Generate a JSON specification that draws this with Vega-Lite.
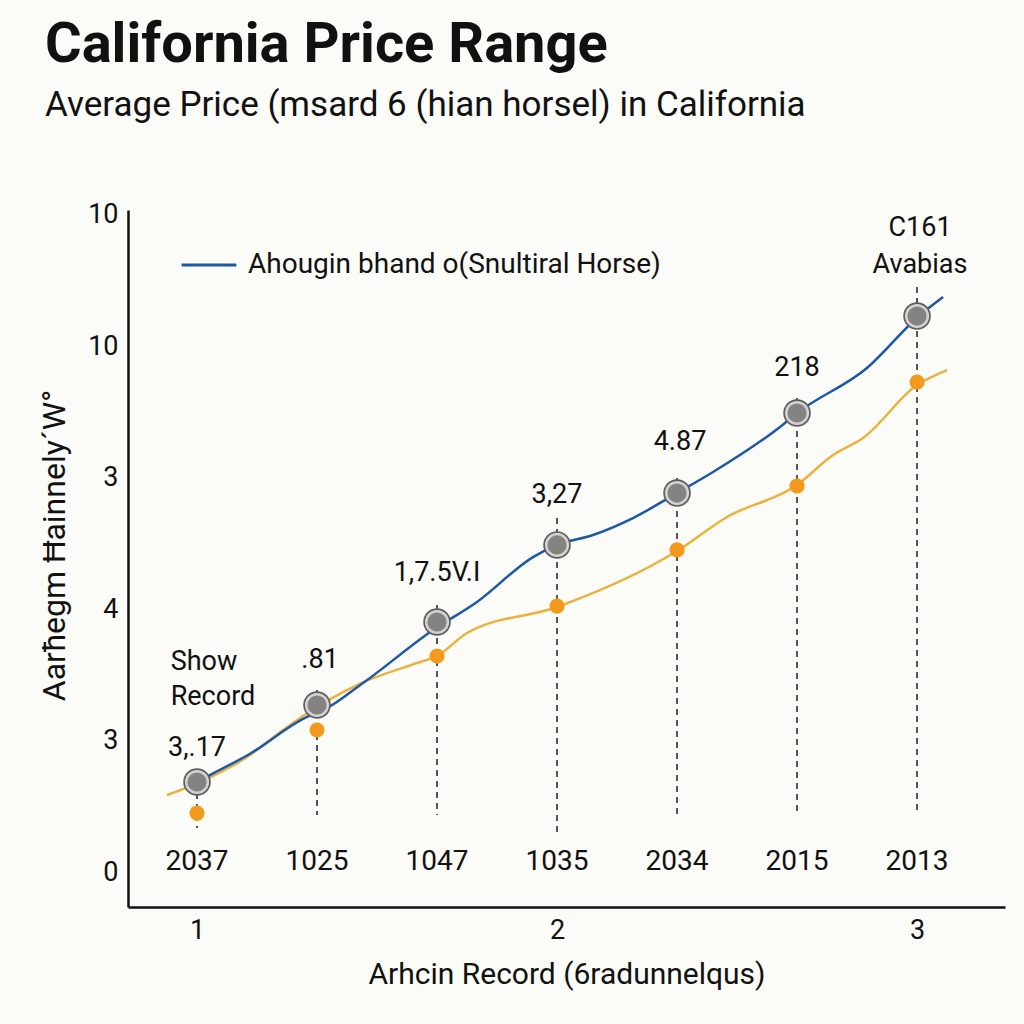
{
  "$schema": "https://vega.github.io/schema/vega-lite/v6.json",
  "autosize": {"type": "none"},
  "width": 877,
  "height": 697,
  "padding": {"left": 128, "top": 210, "right": 19, "bottom": 117},
  "background": "#fbfbf8",
  "config": {
    "view": {"stroke": null},
    "font": "Roboto",
    "axis": {"labelFont": "Roboto", "titleFont": "Roboto", "labelColor": "#111", "titleColor": "#111", "titleFontWeight": "normal", "grid": false, "ticks": false, "domainColor": "#111", "domainWidth": 2.5}
  },
  "title": {
    "text": "California Price Range",
    "subtitle": "Average Price (msard 6 (hian horsel) in California",
    "anchor": "start",
    "frame": "group",
    "dx": -83,
    "offset": 77,
    "font": "Roboto",
    "fontSize": 56,
    "fontWeight": "bold",
    "color": "#111",
    "subtitleFont": "Roboto",
    "subtitleFontSize": 35,
    "subtitleColor": "#111",
    "subtitlePadding": 14
  },
  "datasets": {
    "blue": [
      {"x": -0.058, "v": 0.654, "series": "Ahougin bhand o(Snultiral Horse)"},
      {"x": 0, "v": 0.685, "series": "Ahougin bhand o(Snultiral Horse)"},
      {"x": 0.442, "v": 0.9, "series": "Ahougin bhand o(Snultiral Horse)"},
      {"x": 0.917, "v": 1.18, "series": "Ahougin bhand o(Snultiral Horse)"},
      {"x": 1.05, "v": 1.23, "series": "Ahougin bhand o(Snultiral Horse)"},
      {"x": 1.383, "v": 1.438, "series": "Ahougin bhand o(Snultiral Horse)"},
      {"x": 1.967, "v": 1.842, "series": "Ahougin bhand o(Snultiral Horse)"},
      {"x": 2.333, "v": 2.055, "series": "Ahougin bhand o(Snultiral Horse)"},
      {"x": 2.8, "v": 2.397, "series": "Ahougin bhand o(Snultiral Horse)"},
      {"x": 3.0, "v": 2.489, "series": "Ahougin bhand o(Snultiral Horse)"},
      {"x": 3.3, "v": 2.565, "series": "Ahougin bhand o(Snultiral Horse)"},
      {"x": 3.633, "v": 2.694, "series": "Ahougin bhand o(Snultiral Horse)"},
      {"x": 4.0, "v": 2.884, "series": "Ahougin bhand o(Snultiral Horse)"},
      {"x": 4.3, "v": 3.044, "series": "Ahougin bhand o(Snultiral Horse)"},
      {"x": 4.858, "v": 3.387, "series": "Ahougin bhand o(Snultiral Horse)"},
      {"x": 5.0, "v": 3.493, "series": "Ahougin bhand o(Snultiral Horse)"},
      {"x": 5.583, "v": 3.836, "series": "Ahougin bhand o(Snultiral Horse)"},
      {"x": 6.025, "v": 4.239, "series": "Ahougin bhand o(Snultiral Horse)"},
      {"x": 6.217, "v": 4.376, "series": "Ahougin bhand o(Snultiral Horse)"}
    ],
    "orange": [
      {"x": -0.25, "v": 0.586},
      {"x": 0.025, "v": 0.685},
      {"x": 0.417, "v": 0.875},
      {"x": 0.717, "v": 1.081},
      {"x": 1.0, "v": 1.256},
      {"x": 1.333, "v": 1.423},
      {"x": 1.833, "v": 1.591},
      {"x": 2.0, "v": 1.644},
      {"x": 2.25, "v": 1.819},
      {"x": 3.0, "v": 2.017},
      {"x": 4.0, "v": 2.443},
      {"x": 4.417, "v": 2.702},
      {"x": 5.0, "v": 2.945},
      {"x": 5.3, "v": 3.174},
      {"x": 5.55, "v": 3.303},
      {"x": 6.0, "v": 3.706},
      {"x": 6.25, "v": 3.82}
    ],
    "cats": [
      {"x": 0, "cat": "2037", "gray": 0.685, "dot": 0.449, "top": 0.685, "bottom": 0.335},
      {"x": 1, "cat": "1025", "gray": 1.271, "dot": 1.081, "top": 1.385, "bottom": 0.434},
      {"x": 2, "cat": "1047", "gray": 1.903, "dot": 1.644, "top": 2.032, "bottom": 0.434},
      {"x": 3, "cat": "1035", "gray": 2.489, "dot": 2.024, "top": 2.694, "bottom": 0.297},
      {"x": 4, "cat": "2034", "gray": 2.884, "dot": 2.451, "top": 2.998, "bottom": 0.434},
      {"x": 5, "cat": "2015", "gray": 3.493, "dot": 2.938, "top": 3.607, "bottom": 0.434},
      {"x": 6, "cat": "2013", "gray": 4.231, "dot": 3.729, "top": 4.452, "bottom": 0.434}
    ],
    "notes": [
      {"x": 0, "v": 0.944, "text": "3,.17"},
      {"x": 1.025, "v": 1.613, "text": ".81"},
      {"x": 0.058, "v": 1.598, "text": "Show"},
      {"x": 0.133, "v": 1.332, "text": "Record"},
      {"x": 2.0, "v": 2.276, "text": "1,7.5V.I"},
      {"x": 3.0, "v": 2.869, "text": "3,27"},
      {"x": 4.025, "v": 3.272, "text": "4.87"},
      {"x": 5.0, "v": 3.836, "text": "218"},
      {"x": 6.025, "v": 4.901, "text": "C161"},
      {"x": 6.025, "v": 4.619, "text": "Avabias"}
    ]
  },
  "encoding": {
    "x": {
      "field": "x",
      "type": "quantitative",
      "scale": {"domain": [-0.575, 6.733], "nice": false, "zero": false},
      "axis": {
        "values": [0, 3, 6],
        "labelExpr": "datum.value == 0 ? '1' : datum.value == 3 ? '2' : '3'",
        "labelFontSize": 27,
        "labelPadding": 10,
        "title": "Arhcin Record (6radunnelqus)",
        "titleFontSize": 30,
        "titlePadding": 16
      }
    }
  },
  "layer": [
    {
      "data": {"name": "cats"},
      "mark": {"type": "rule", "color": "#555", "strokeDash": [6, 5], "strokeWidth": 2},
      "encoding": {
        "y": {
          "field": "top",
          "type": "quantitative",
          "scale": {"domain": [-0.266, 5.038], "nice": false, "zero": false},
          "axis": {
            "values": [0, 1, 2, 3, 4, 5],
            "labelExpr": "datum.value == 0 ? '0' : datum.value == 1 ? '3' : datum.value == 2 ? '4' : datum.value == 3 ? '3' : '10'",
            "labelFontSize": 27,
            "labelPadding": 10,
            "title": "Aarħegm Ħainnely´W°",
            "titleFontSize": 32,
            "titlePadding": 16,
            "titleY": 335
          }
        },
        "y2": {"field": "bottom"}
      }
    },
    {
      "data": {"name": "orange"},
      "mark": {"type": "line", "color": "#ebb13f", "strokeWidth": 2.5, "interpolate": "monotone"},
      "encoding": {
        "y": {"field": "v", "type": "quantitative", "scale": {"domain": [-0.266, 5.038], "nice": false, "zero": false}, "title": "Aarħegm Ħainnely´W°"}
      }
    },
    {
      "data": {"name": "blue"},
      "mark": {"type": "line", "strokeWidth": 2.5, "interpolate": "monotone"},
      "encoding": {
        "y": {"field": "v", "type": "quantitative", "scale": {"domain": [-0.266, 5.038], "nice": false, "zero": false}, "title": "Aarħegm Ħainnely´W°"},
        "color": {
          "field": "series",
          "type": "nominal",
          "scale": {"range": ["#1d58a8"]},
          "legend": {
            "title": null,
            "orient": "none",
            "legendX": 52,
            "legendY": 26,
            "symbolType": "stroke",
            "symbolSize": 3000,
            "symbolStrokeWidth": 3,
            "labelFontSize": 28,
            "labelFont": "Roboto",
            "labelColor": "#111",
            "labelOffset": 10,
            "labelLimit": 700
          }
        }
      }
    },
    {
      "data": {"name": "cats"},
      "mark": {"type": "point", "filled": true, "size": 760, "fill": "#5e5e5e", "opacity": 1},
      "encoding": {
        "y": {"field": "gray", "type": "quantitative", "scale": {"domain": [-0.266, 5.038], "nice": false, "zero": false}, "title": "Aarħegm Ħainnely´W°"}
      }
    },
    {
      "data": {"name": "cats"},
      "mark": {"type": "point", "filled": true, "size": 470, "fill": "#858382", "stroke": "#d2d2d2", "strokeWidth": 2.5, "opacity": 1},
      "encoding": {
        "y": {"field": "gray", "type": "quantitative", "scale": {"domain": [-0.266, 5.038], "nice": false, "zero": false}, "title": "Aarħegm Ħainnely´W°"}
      }
    },
    {
      "data": {"name": "cats"},
      "mark": {"type": "point", "filled": true, "size": 230, "color": "#f39a1c", "opacity": 1},
      "encoding": {
        "y": {"field": "dot", "type": "quantitative", "scale": {"domain": [-0.266, 5.038], "nice": false, "zero": false}, "title": "Aarħegm Ħainnely´W°"}
      }
    },
    {
      "data": {"name": "cats"},
      "mark": {"type": "text", "fontSize": 28, "font": "Roboto", "color": "#111", "baseline": "middle"},
      "encoding": {
        "y": {"datum": 0.076, "type": "quantitative", "scale": {"domain": [-0.266, 5.038], "nice": false, "zero": false}, "title": "Aarħegm Ħainnely´W°"},
        "text": {"field": "cat"}
      }
    },
    {
      "data": {"name": "notes"},
      "mark": {"type": "text", "fontSize": 27, "font": "Roboto", "color": "#111", "baseline": "middle"},
      "encoding": {
        "y": {"field": "v", "type": "quantitative", "scale": {"domain": [-0.266, 5.038], "nice": false, "zero": false}, "title": "Aarħegm Ħainnely´W°"},
        "text": {"field": "text"}
      }
    }
  ]
}
